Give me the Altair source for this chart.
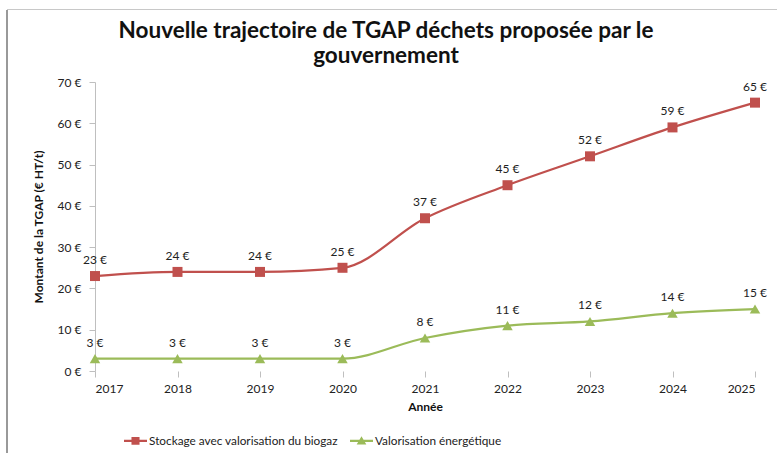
import altair as alt
import pandas as pd

years = [2017, 2018, 2019, 2020, 2021, 2022, 2023, 2024, 2025]
stockage = [23, 24, 24, 25, 37, 45, 52, 59, 65]
valorisation = [3, 3, 3, 3, 8, 11, 12, 14, 15]
series_names = ["Stockage avec valorisation du biogaz", "Valorisation énergétique"]
colors = ["#C0504D", "#9BBB59"]
title_text = "Nouvelle trajectoire de TGAP déchets proposée par le\ngouvernement"

rows = []
for y, v in zip(years, stockage):
    rows.append({"year": y, "value": v, "series": series_names[0], "label": f"{v} €"})
for y, v in zip(years, valorisation):
    rows.append({"year": y, "value": v, "series": series_names[1], "label": f"{v} €"})
df = pd.DataFrame(rows)

FONT = "Lato"
W, H = 660, 289
PL, PT, PR, PB = 95, 82, 22, 82

xenc = alt.X("year:Q", scale=alt.Scale(domain=[2017, 2025], nice=False, zero=False),
             axis=alt.Axis(title="Année", values=years, format="d", domain=False,
                           tickColor="#BFBFBF", tickSize=6, labelFontSize=12,
                           labelColor="#222", labelPadding=6, titleFontSize=12,
                           titleFontWeight="bold", titleColor="#111", titlePadding=7,
                           grid=False, labelFont=FONT, titleFont=FONT))
yenc = alt.Y("value:Q", scale=alt.Scale(domain=[0, 70], nice=False),
             axis=alt.Axis(title="Montant de la TGAP (€ HT/t)", values=list(range(0, 71, 10)),
                           labelExpr="datum.value + ' €'", domainColor="#BFBFBF",
                           tickColor="#BFBFBF", tickSize=6, labelFontSize=12,
                           labelColor="#222", labelPadding=8, titleFontSize=12,
                           titleFontWeight="bold", titleColor="#111", titlePadding=12,
                           grid=False, labelFont=FONT, titleFont=FONT))
cscale = alt.Scale(domain=series_names, range=colors)

base = alt.Chart(df)
red_data = base.transform_filter(alt.datum.series == series_names[0])
green_data = base.transform_filter(alt.datum.series == series_names[1])

line_red = red_data.mark_line(interpolate="monotone", strokeWidth=2.2, color=colors[0]).encode(x=xenc, y=yenc)
line_green = green_data.mark_line(interpolate="monotone", strokeWidth=2.2, color=colors[1]).encode(x=xenc, y=yenc)

pts_red = red_data.mark_point(filled=True, opacity=1, shape="square", size=100,
                              color=colors[0]).encode(x=xenc, y=yenc)
pts_green = green_data.mark_point(filled=True, opacity=1, shape="triangle-up", size=110,
                                  color=colors[1]).encode(x=xenc, y=yenc)

labels = base.mark_text(dy=-16, fontSize=12, font=FONT, color="#222").encode(
    x=xenc, y=yenc, text="label:N")

sq_path = "M-1,-0.1L1,-0.1L1,0.1L-1,0.1Z M-0.35,-0.33L0.35,-0.33L0.35,0.33L-0.35,0.33Z"
tri_path = "M-1,-0.1L1,-0.1L1,0.1L-1,0.1Z M0,-0.4L0.42,0.32L-0.42,0.32Z"

legend_props = dict(orient="none", direction="horizontal", legendX=29, legendY=347,
                    symbolSize=529, symbolOpacity=1, symbolStrokeWidth=0,
                    labelFontSize=11.8, labelFont=FONT, labelColor="#222",
                    labelOffset=2, columnPadding=12, labelLimit=400)

leg = base.mark_point(filled=True, opacity=0).encode(
    x=xenc, y=yenc,
    color=alt.Color("series:N", scale=cscale, title=None, legend=alt.Legend(**legend_props)),
    shape=alt.Shape("series:N", scale=alt.Scale(domain=series_names, range=[sq_path, tri_path]),
                    title=None, legend=alt.Legend(**legend_props)))

one = pd.DataFrame({"t": [title_text]})
border_left = alt.Chart(one).mark_rule(color="#999", strokeWidth=2).encode(
    x=alt.value(7 - PL), y=alt.value(10 - PT), y2=alt.value(453 - PT))
border_top = alt.Chart(one).mark_rule(color="#C8C8C8", strokeWidth=1).encode(
    x=alt.value(7 - PL), x2=alt.value(777 - PL), y=alt.value(9.5 - PT))
title = alt.Chart(one).mark_text(lineBreak="\n", lineHeight=25, fontSize=22.5, font=FONT,
                                 fontWeight="bold", color="#111", baseline="middle",
                                 align="center").encode(
    text="t:N", x=alt.value(386 - PL), y=alt.value(30.5 - PT))

chart = alt.layer(border_left, border_top, line_red, line_green, pts_red, pts_green,
                  labels, leg, title).properties(
    width=W, height=H,
    autosize=alt.AutoSizeParams(type="none"),
    padding={"left": PL, "top": PT, "right": PR, "bottom": PB},
    background="white",
).configure_view(stroke=None)

chart.save("out.html", embed_options={"renderer": "svg", "actions": False})
